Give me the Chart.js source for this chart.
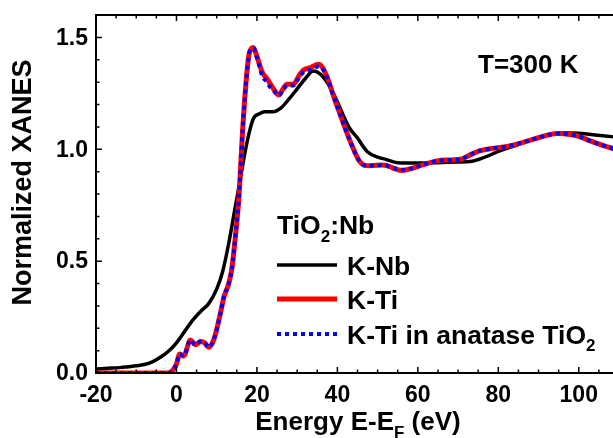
<!DOCTYPE html>
<html><head><meta charset="utf-8">
<script src="https://cdn.jsdelivr.net/npm/chart.js@4"></script>
<style>html,body{margin:0;padding:0;overflow:hidden;background:#fff;width:613px;height:438px}canvas{display:block}</style>
</head><body><canvas id="c" width="620" height="438"></canvas>
<script>
// ---- data ----
const energyNb = [-20,-17,-14,-12,-10,-8,-6,-4,-2,0,2,4,6,8,10,11.5,13,14.5,16,17.3,18.3,19.2,20.5,22,24,26,28,30,32,34,35,36.6,39,41.5,43,45,47.4,50,52,55,60,65,70,73,76,80,84.6,90,96,100,103,106,110];
const xanesNb  = [0.018,0.021,0.024,0.028,0.032,0.038,0.05,0.07,0.097,0.135,0.185,0.235,0.275,0.31,0.375,0.455,0.58,0.73,0.88,1.01,1.09,1.14,1.158,1.168,1.168,1.185,1.225,1.27,1.315,1.35,1.345,1.32,1.25,1.15,1.095,1.05,0.99,0.965,0.955,0.94,0.938,0.94,0.943,0.945,0.96,0.99,1.019,1.054,1.074,1.072,1.066,1.06,1.053];

const energyTi = [-20,-10,-2,-1,0,0.8,1.8,3.5,4.7,6,7,8,9.3,10.9,11.8,13,13.8,14.7,15.5,16.5,17.3,18,18.6,19.1,20,21.3,22.5,23.4,24.5,25.4,26.5,27.5,29,30.5,31.6,33.3,35.3,36.3,37.5,39.1,41.2,43.2,45.3,46.5,48,51.5,54,56.1,58,59.8,62,64.8,68,70.6,73,75.5,79,82.2,86,88.8,92,94.6,97.9,100,103,106,110];
const xanesTi  = [0,0,0,0.01,0.04,0.085,0.076,0.148,0.126,0.141,0.135,0.115,0.15,0.265,0.34,0.4,0.47,0.62,0.78,1.1,1.3,1.42,1.45,1.455,1.415,1.345,1.315,1.29,1.26,1.242,1.27,1.29,1.29,1.33,1.354,1.365,1.38,1.365,1.32,1.235,1.13,1.035,0.952,0.93,0.926,0.93,0.915,0.905,0.912,0.922,0.935,0.948,0.952,0.955,0.975,0.994,1.005,1.013,1.03,1.045,1.062,1.07,1.066,1.058,1.036,1.017,0.995];

const energyAnatase = [-20,-10,-2,-1,0,0.8,1.8,3.5,4.7,6,7,8,9.3,10.9,11.8,13,13.8,14.7,15.5,16.5,17.3,18,18.6,19.1,20,21.3,22.5,23.4,24.5,25.4,26.5,27.5,29,30.5,31.6,33.3,35.3,36.3,37.5,39.1,41.2,43.2,45.3,46.5,48,51.5,54,56.1,58,59.8,62,64.8,68,70.6,73,75.5,79,82.2,86,88.8,92,94.6,97.9,100,103,106,110];
const xanesAnatase  = [0,0,0,0.01,0.04,0.085,0.076,0.148,0.126,0.141,0.135,0.115,0.15,0.265,0.34,0.4,0.47,0.62,0.78,1.1,1.3,1.42,1.45,1.452,1.41,1.33,1.3,1.275,1.255,1.24,1.265,1.285,1.285,1.32,1.345,1.355,1.37,1.36,1.32,1.235,1.13,1.035,0.952,0.93,0.926,0.93,0.915,0.908,0.912,0.922,0.935,0.948,0.952,0.955,0.975,0.994,1.005,1.013,1.03,1.045,1.062,1.07,1.066,1.058,1.036,1.017,0.995];

const seriesNames = ['K-Nb','K-Ti','K-Ti in anatase TiO_2'];
const legendTitle = 'TiO_2:Nb';
const annotationText = 'T=300 K';
const xTitle = 'Energy E-E_F (eV)';
const yTitle = 'Normalized XANES';
const xTickValues = [-20,0,20,40,60,80,100];
const yTickValues = [0,0.5,1.0,1.5];

const FONT = '"Liberation Sans", Arial, Helvetica, sans-serif';
const zip = (xs, ys) => xs.map((x, i) => ({x, y: ys[i]}));

// draw text with "_c" meaning subscript c
function richParts(s){
  const parts=[]; let buf='';
  for(let i=0;i<s.length;i++){
    if(s[i]==='_' && i+1<s.length){ if(buf){parts.push({t:buf,sub:false});buf='';} parts.push({t:s[i+1],sub:true}); i++; }
    else buf+=s[i];
  }
  if(buf) parts.push({t:buf,sub:false});
  return parts;
}
function drawRich(ctx, s, x, y, size, align){
  const parts = richParts(s);
  const subSize = Math.round(size*0.66);
  let w=0;
  parts.forEach(p=>{ ctx.font='bold '+(p.sub?subSize:size)+'px '+FONT; p.w=ctx.measureText(p.t).width; w+=p.w; });
  let cx = align==='center' ? x - w/2 : x;
  ctx.textAlign='left'; ctx.textBaseline='alphabetic';
  parts.forEach(p=>{
    ctx.font='bold '+(p.sub?subSize:size)+'px '+FONT;
    ctx.fillText(p.t, cx, p.sub ? y + size*0.3 : y);
    cx += p.w;
  });
}

const framePlugin = {
  id:'frame',
  afterDatasetsDraw(chart){
    const {ctx, chartArea:a, scales:{x, y}} = chart;
    ctx.save();
    ctx.strokeStyle='#000'; ctx.fillStyle='#000';
    ctx.lineWidth=2;
    ctx.strokeRect(a.left, a.top, a.right-a.left, a.bottom-a.top);
    ctx.lineWidth=1.5;
    // x ticks (bottom & top)
    for(let v=-20; v<=110; v+=5){
      const px = x.getPixelForValue(v);
      if(px<a.left-0.5||px>a.right+0.5) continue;
      const major = v%20===0; const L = major?6:3.5;
      ctx.beginPath();
      ctx.moveTo(px,a.bottom); ctx.lineTo(px,a.bottom-L);
      ctx.moveTo(px,a.top); ctx.lineTo(px,a.top+L);
      ctx.stroke();
    }
    for(let k=0;k<=16;k++){
      const v=k/10; const py=y.getPixelForValue(v);
      const major = k%5===0; const L = major?6:3.5;
      ctx.beginPath();
      ctx.moveTo(a.left,py); ctx.lineTo(a.left+L,py);
      ctx.moveTo(a.right,py); ctx.lineTo(a.right-L,py);
      ctx.stroke();
    }
    // tick labels
    ctx.font='bold 23px '+FONT;
    ctx.textAlign='center'; ctx.textBaseline='alphabetic';
    xTickValues.forEach(v=>ctx.fillText(String(v), x.getPixelForValue(v), 402));
    ctx.textAlign='right'; ctx.textBaseline='middle';
    yTickValues.forEach(v=>ctx.fillText(v.toFixed(1), a.left-8, y.getPixelForValue(v)+1));
    // axis titles
    ctx.save();
    ctx.translate(23, 182.5); ctx.rotate(-Math.PI/2);
    ctx.font='bold 27px '+FONT; ctx.textAlign='center'; ctx.textBaseline='middle';
    ctx.fillText(yTitle, 0, 1);
    ctx.restore();
    drawRich(ctx, xTitle, 358, 430, 26, 'center');
    // annotation
    ctx.font='bold 26px '+FONT; ctx.textAlign='left'; ctx.textBaseline='alphabetic';
    ctx.fillText(annotationText, 478, 73);
    // legend
    drawRich(ctx, legendTitle, 277, 234, 26.5);
    const ds = chart.data.datasets;
    const rows=[265,299,334];
    ds.forEach((d,i)=>{
      ctx.save();
      ctx.strokeStyle=d.borderColor; ctx.lineWidth=d.borderWidth;
      ctx.setLineDash(d.borderDash||[]);
      ctx.beginPath(); ctx.moveTo(277,rows[i]); ctx.lineTo(337,rows[i]); ctx.stroke();
      ctx.restore();
      drawRich(ctx, seriesNames[i], 347, rows[i]+9.5, 26.5);
    });
    ctx.restore();
  }
};

new Chart(document.getElementById('c'), {
  type:'line',
  data:{ datasets:[
    {label:seriesNames[0], data:zip(energyNb,xanesNb), borderColor:'#000000', borderWidth:3.5, order:3},
    {label:seriesNames[1], data:zip(energyTi,xanesTi), borderColor:'#ff0000', borderWidth:5, order:2},
    {label:seriesNames[2], data:zip(energyAnatase,xanesAnatase), borderColor:'#0000ff', borderWidth:4, borderDash:[4,4], order:1}
  ]},
  options:{
    responsive:false, animation:false, devicePixelRatio:1,
    layout:{padding:{left:96, top:15, right:1, bottom:65}},
    elements:{point:{radius:0}, line:{cubicInterpolationMode:'monotone', borderJoinStyle:'round', fill:false}},
    plugins:{legend:{display:false}, tooltip:{enabled:false}},
    scales:{
      x:{type:'linear', min:-20, max:110, display:false},
      y:{type:'linear', min:0, max:1.6, display:false}
    }
  },
  plugins:[framePlugin]
});
</script></body></html>
